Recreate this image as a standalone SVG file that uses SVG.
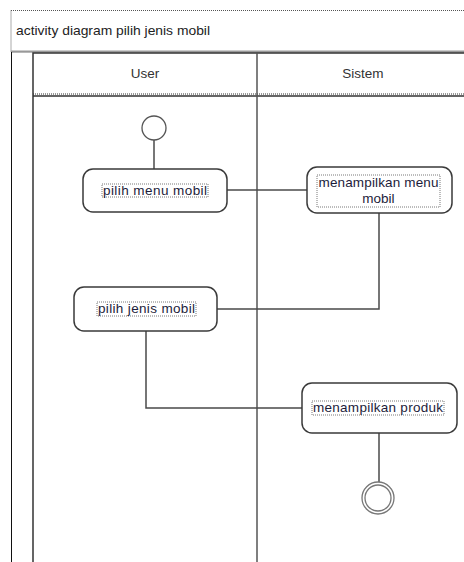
<svg xmlns="http://www.w3.org/2000/svg" width="464" height="562" viewBox="0 0 464 562">
<style>
  .lbl { font-family: "Liberation Sans", Arial, sans-serif; font-size: 13.5px; fill: #1c1c3a; }
  .hdr { font-family: "Liberation Sans", Arial, sans-serif; font-size: 13.5px; fill: #333; text-anchor: middle; }
  .act { fill: #fff; stroke: #3a3a3a; stroke-width: 1.5; }
  .focus { fill: none; stroke: #555; stroke-width: 0.8; stroke-dasharray: 1 1; }
  .conn { fill: none; stroke: #4a4a4a; stroke-width: 1.5; }
</style>
<rect width="464" height="562" fill="#fff"/>
<g id="frame">
  <rect x="11" y="10.5" width="470" height="41.5" fill="#fff" stroke="#555" stroke-width="1" stroke-dasharray="1 1"/>
  <line x1="11" y1="51.5" x2="464" y2="51.5" stroke="#999" stroke-width="2"/>
  <text x="16" y="35" font-family="'Liberation Sans', Arial, sans-serif" font-size="13" fill="#222" textLength="194" lengthAdjust="spacingAndGlyphs">activity diagram pilih jenis mobil</text>
  <line x1="11.5" y1="52" x2="11.5" y2="562" stroke="#111" stroke-width="1"/>
</g>
<g id="lanes">
  <rect x="33" y="53" width="436" height="520" fill="none" stroke="#333" stroke-width="1.5"/>
  <line x1="33" y1="94" x2="469" y2="94" stroke="#333" stroke-width="1" stroke-dasharray="1 1"/>
  <line x1="33" y1="96" x2="469" y2="96" stroke="#333" stroke-width="1.5"/>
  <line x1="257" y1="53" x2="257" y2="562" stroke="#555" stroke-width="1.5"/>
  <text class="hdr" x="145" y="78">User</text>
  <text class="hdr" x="363" y="78">Sistem</text>
</g>
<g id="connectors">
  <line class="conn" x1="154" y1="140" x2="154" y2="169"/>
  <line class="conn" x1="227" y1="190" x2="307" y2="190"/>
  <polyline class="conn" points="379,213 379,309 217,309"/>
  <polyline class="conn" points="146,331 146,408 302,408"/>
  <line class="conn" x1="379" y1="433" x2="379" y2="482"/>
</g>
<g id="start">
  <circle cx="154" cy="128" r="12" fill="#fff" stroke="#555" stroke-width="1.3"/>
</g>
<g id="pilih-menu-mobil">
  <rect class="act" x="83" y="169" width="144" height="43" rx="10"/>
  <rect class="focus" x="102" y="184" width="106" height="13"/>
  <text class="lbl" x="103" y="195" textLength="104" lengthAdjust="spacing">pilih menu mobil</text>
</g>
<g id="menampilkan-menu-mobil">
  <rect class="act" x="307" y="167" width="145" height="46" rx="10"/>
  <rect class="focus" x="317" y="175" width="123" height="32"/>
  <text class="lbl" x="318.5" y="187" textLength="120" lengthAdjust="spacing">menampilkan menu</text>
  <text class="lbl" x="378.5" y="203" text-anchor="middle">mobil</text>
</g>
<g id="pilih-jenis-mobil">
  <rect class="act" x="74" y="287" width="143" height="44" rx="10"/>
  <rect class="focus" x="97" y="302" width="99" height="14"/>
  <text class="lbl" x="98" y="313" textLength="97" lengthAdjust="spacing">pilih jenis mobil</text>
</g>
<g id="menampilkan-produk">
  <rect class="act" x="302" y="383" width="155" height="50" rx="10"/>
  <rect class="focus" x="312" y="401" width="132" height="14"/>
  <text class="lbl" x="313" y="412" textLength="130" lengthAdjust="spacing">menampilkan produk</text>
</g>
<g id="end">
  <circle cx="378" cy="498" r="16" fill="#fff" stroke="#777" stroke-width="1.3"/>
  <circle cx="378" cy="498" r="13" fill="#fff" stroke="#777" stroke-width="1.3"/>
</g>
</svg>
